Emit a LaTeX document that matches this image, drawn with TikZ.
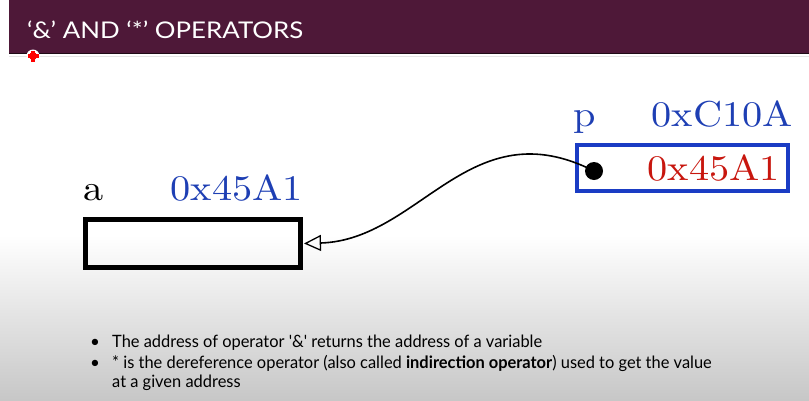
\documentclass[tikz,border=0pt]{standalone}
\usepackage{fontspec}
\usepackage{graphicx}
\usetikzlibrary{arrows.meta}

\newfontfamily\uifont{Lato}

\definecolor{headerplum}{HTML}{4E1838}
\definecolor{addrblue}{HTML}{1E3FB4}
\definecolor{boxblue}{HTML}{1A3CC4}
\definecolor{valred}{HTML}{C8160E}

\newlength\bulletwd
\settowidth\bulletwd{\uifont\fontsize{17}{20}\selectfont The address of operator \textquotesingle\&\textquotesingle{} returns the address of a variable}

% memory labels: 10pt Latin Modern blown up, a little wider than tall
\newcommand\memtext[1]{\scalebox{4.03}[3.6]{#1}}

\begin{document}
\begin{tikzpicture}[x=1pt,y=-1pt,
  memlabel/.style={inner sep=0pt, font=\fontsize{10}{12}\selectfont},
  cellbox/.style={draw, rectangle, inner sep=0pt},
  bullettext/.style={inner sep=0pt, anchor=base west, font=\uifont\fontsize{17}{20}\selectfont},
  bulletmark/.style={inner sep=0pt, anchor=base, font=\uifont\fontsize{17}{20}\selectfont},
  pointsto/.style={line width=1.6pt, -{Triangle[open, length=17pt, width=16pt, line width=1.3pt]}}]
\pgfmathsetmacro\bfac{430pt/\bulletwd}
\useasboundingbox (0,0) rectangle (809,400);

% slide background
\fill[white] (0,0) rectangle (809,400);
\shade[top color=white, bottom color=black!22] (0,235) rectangle (809,400);

% title band
\fill[headerplum] (9,0) rectangle (809,53);
\draw[black!60!headerplum, line width=1pt] (9,53.5) -- (809,53.5);
\draw[black!10, line width=0.8pt] (9,56.5) -- (809,56.5);
\node[inner sep=0pt, anchor=base west, text=white, font=\uifont\fontsize{23}{26}\selectfont] (title) at (27,38)
  {\resizebox{276pt}{\height}{‘\&’ AND ‘*’ OPERATORS}};

% red pointer mark
\fill[white] (33,56) circle (6.5);
\fill[red] (33,56) circle (4);
\fill[red] (31.2,50.5) rectangle (34.8,61.5);
\fill[red] (27.5,54.2) rectangle (38.5,57.8);

% variable a
\node[memlabel, anchor=base west] (aname) at (83,200) {\memtext{a}};
\node[memlabel, anchor=base east, text=addrblue] (aaddr) at (303,200) {\memtext{0x45A1}};
\node[cellbox, line width=5pt, minimum width=215pt, minimum height=48pt] (boxa) at (193,243.5) {};

% pointer p
\node[memlabel, anchor=base west, text=addrblue] (pname) at (573,126) {\memtext{p}};
\node[memlabel, anchor=base east, text=addrblue] (paddr) at (793,126) {\memtext{0xC10A}};
\node[cellbox, draw=boxblue, line width=4.5pt, minimum width=211pt, minimum height=46pt] (boxp) at (682.5,168) {};
\node[memlabel, anchor=base east, text=valred] (pval) at (780,180) {\memtext{0x45A1}};
\node[circle, fill=black, inner sep=0pt, minimum size=18pt] (dot) at (594,171) {};

% reference from p to a
\draw[pointsto] (dot.center) .. controls (470,108) and (420,240) .. ([xshift=1pt]boxa.east);

% notes
\node[bulletmark] (m1) at (95,347) {•};
\node[bullettext] (l1) at (112,347) {\scalebox{\bfac}[1]{The address of operator \textquotesingle\&\textquotesingle{} returns the address of a variable}};
\node[bulletmark] (m2) at (95,368) {•};
\node[bullettext] (l2) at (112,368) {\scalebox{\bfac}[1]{* is the dereference operator (also called \textbf{indirection operator}) used to get the value}};
\node[bullettext] (l3) at (112,387) {\scalebox{\bfac}[1]{at a given address}};
\end{tikzpicture}
\end{document}
